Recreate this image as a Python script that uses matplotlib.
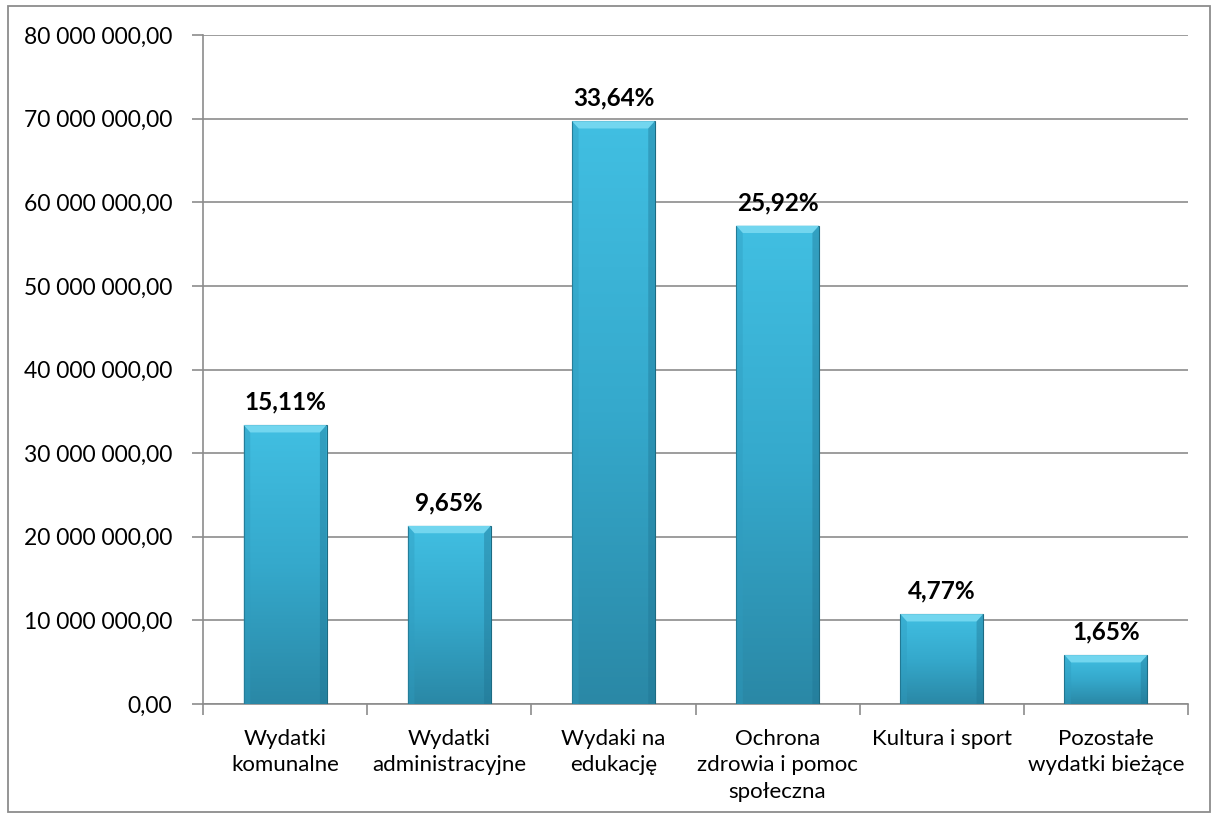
import matplotlib
matplotlib.use("Agg")
import matplotlib.pyplot as plt
import numpy as np
from matplotlib.colors import LinearSegmentedColormap
from matplotlib.patches import Rectangle, Polygon
from matplotlib.ticker import FuncFormatter, MultipleLocator

categories = [
    "Wydatki\nkomunalne",
    "Wydatki\nadministracyjne",
    "Wydaki na\nedukację",
    "Ochrona\nzdrowia i pomoc\nspołeczna",
    "Kultura i sport",
    "Pozostałe\nwydatki bieżące",
]
values = [33.35e6, 21.3e6, 69.7e6, 57.2e6, 10.75e6, 5.85e6]
shares = ["15,11%", "9,65%", "33,64%", "25,92%", "4,77%", "1,65%"]

plt.rcParams["font.family"] = ["Lato", "DejaVu Sans"]

fig = plt.figure(figsize=(12.18, 8.17), dpi=100)
ax = fig.add_axes([203 / 1218, 1 - 704 / 817, (1188 - 203) / 1218, (704 - 35) / 817])

# outer chart frame
fig.patches.append(Rectangle((8 / 1218, 5 / 817), 1202 / 1218, 806 / 817,
                             transform=fig.transFigure, fill=False,
                             edgecolor="#8c8c8c", linewidth=1.3))

x = np.arange(len(categories))
bars = ax.bar(x, values, width=0.505, color="none", edgecolor="#1d6b82",
              linewidth=0.8, zorder=4)

cmap = LinearSegmentedColormap.from_list("bar", ["#2a88a6", "#35a9cc", "#41bfe2"])
grad = np.linspace(0, 1, 256).reshape(-1, 1)
for b in bars:
    x0, w, h = b.get_x(), b.get_width(), b.get_height()
    im = ax.imshow(grad, extent=[x0, x0 + w, 0, h], origin="lower",
                   aspect="auto", cmap=cmap, zorder=3)
    im.set_clip_path(b)
    # bevel on top
    bev = 0.011 * 80e6
    dx = w * 0.08
    ax.add_patch(Polygon([[x0, h], [x0 + w, h], [x0 + w - dx, h - bev], [x0 + dx, h - bev]],
                         closed=True, facecolor="#72d6ef", edgecolor="none", zorder=4))
    ax.add_patch(Polygon([[x0, h], [x0 + dx, h - bev], [x0 + dx, 0], [x0, 0]],
                         closed=True, facecolor="#2f9cbf", edgecolor="none", alpha=0.4, zorder=4))
    ax.add_patch(Polygon([[x0 + w, h], [x0 + w - dx, h - bev], [x0 + w - dx, 0], [x0 + w, 0]],
                         closed=True, facecolor="#1f7391", edgecolor="none", alpha=0.4, zorder=4))

for xi, v, s in zip(x, values, shares):
    ax.text(xi, v + 1.4e6, s, ha="center", va="bottom", fontsize=17.5,
            fontweight="bold", color="black", zorder=5)

ax.set_xlim(-0.5, len(categories) - 0.5)
ax.set_ylim(0, 80e6)
ax.yaxis.set_major_locator(MultipleLocator(10e6))
ax.yaxis.set_major_formatter(FuncFormatter(
    lambda v, p: f"{v:,.2f}".replace(",", " ").replace(".", ",")))
ax.grid(axis="y", color="#8c8c8c", linewidth=1.2, zorder=0)
ax.set_axisbelow(True)

ax.set_xticks(x)
ax.set_xticklabels(categories, fontsize=16, linespacing=1.4)
ax.set_xticks(np.arange(-0.5, len(categories)), minor=True)
ax.tick_params(axis="x", which="major", length=0, pad=18)
ax.tick_params(axis="x", which="minor", length=8, color="#8c8c8c", width=1.2)
ax.tick_params(axis="y", length=8, color="#8c8c8c", width=1.2, labelsize=16.5, pad=14)

for side in ["top", "right"]:
    ax.spines[side].set_visible(False)
for side in ["left", "bottom"]:
    ax.spines[side].set_color("#8c8c8c")
    ax.spines[side].set_linewidth(1.2)

fig.savefig("out.png", dpi=100)
